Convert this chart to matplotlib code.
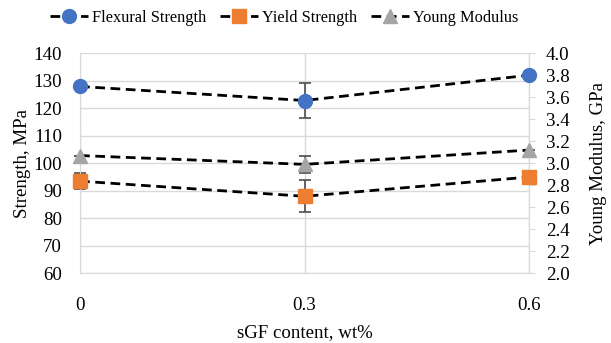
import matplotlib.pyplot as plt
from matplotlib.lines import Line2D

plt.rcParams['font.family'] = ['Liberation Serif', 'DejaVu Serif']
plt.rcParams['font.size'] = 13.6

# data
sgf = [0, 0.3, 0.6]
x_labels = ['0', '0.3', '0.6']
flexural = [127.9, 122.8, 132.0]
flexural_err = [0, 6.5, 0]
yield_str = [93.5, 88.0, 95.0]
yield_err = [3.0, 5.8, 0]
young = [3.07, 2.99, 3.12]
young_err = [0, 0.08, 0]

blue = '#4472C4'
orange = '#ED7D31'
gray = '#A5A5A5'
grid_c = '#D9D9D9'
err_c = '#595959'
dash = (0, (3.5, 2))

fig = plt.figure(figsize=(6.11, 3.43), dpi=100)
ax = fig.add_axes([0.131, 0.203, 0.735, 0.642])
ax2 = ax.twinx()
# keep the marks above the secondary axis ticks
ax.set_zorder(2)
ax2.set_zorder(1)
ax.patch.set_visible(False)

ax.set_xlim(0, 0.6)
ax.set_ylim(60, 140)
ax.set_yticks(range(60, 141, 10))
ax.set_xticks(sgf)
ax.set_xticklabels(x_labels)
ax.grid(True, color=grid_c, linewidth=1.0)
ax.set_axisbelow(True)
ax.tick_params(axis='y', length=0, pad=13)
ax.tick_params(axis='x', length=0, pad=17)
ax.spines['top'].set_visible(False)
for s in ['left', 'bottom', 'right']:
    ax.spines[s].set_color(grid_c)

ax2.set_ylim(2.0, 4.0)
ax2.set_yticks([2.0 + 0.2 * i for i in range(11)])
ax2.set_yticklabels(['%.1f' % (2.0 + 0.2 * i) for i in range(11)])
ax2.tick_params(axis='y', length=4, color=grid_c, pad=8)
for s in ['top', 'left', 'bottom']:
    ax2.spines[s].set_visible(False)
ax2.spines['right'].set_color(grid_c)

# error bars first, under the markers
eb = dict(fmt='none', ecolor=err_c, elinewidth=1.3, capsize=4, capthick=1.3, clip_on=False, zorder=2)
ax.errorbar(sgf, flexural, yerr=flexural_err, **eb)
ax.errorbar(sgf, yield_str, yerr=yield_err, **eb)
ax.errorbar(sgf, young, yerr=young_err, transform=ax2.transData, **eb)

ax.plot(sgf, flexural, color='black', linestyle=dash, linewidth=2,
        marker='o', markersize=10, markerfacecolor=blue, markeredgecolor=blue,
        clip_on=False, zorder=3)
ax.plot(sgf, yield_str, color='black', linestyle=dash, linewidth=2,
        marker='s', markersize=9.5, markerfacecolor=orange, markeredgecolor=orange,
        clip_on=False, zorder=3)
ax.plot(sgf, young, color='black', linestyle=dash, linewidth=2,
        marker='^', markersize=10, markerfacecolor=gray, markeredgecolor=gray,
        clip_on=False, zorder=3, transform=ax2.transData)

ax.set_ylabel('Strength, MPa', labelpad=2)
ax2.set_ylabel('Young Modulus, GPa', labelpad=15)
ax.set_xlabel('sGF content, wt%', labelpad=7)

handles = [
    Line2D([], [], color='black', linestyle=dash, linewidth=2, marker='o', markersize=10,
           markerfacecolor=blue, markeredgecolor=blue),
    Line2D([], [], color='black', linestyle=dash, linewidth=2, marker='s', markersize=9.5,
           markerfacecolor=orange, markeredgecolor=orange),
    Line2D([], [], color='black', linestyle=dash, linewidth=2, marker='^', markersize=10,
           markerfacecolor=gray, markeredgecolor=gray),
]
fig.legend(handles, ['Flexural Strength', 'Yield Strength', 'Young Modulus'],
           loc='center', bbox_to_anchor=(0.465, 0.947), ncol=3, frameon=False,
           prop={'family': 'Liberation Serif', 'size': 11.8},
           handlelength=2.3, handletextpad=0.25, columnspacing=0.85)

fig.savefig('out.png', dpi=100)
